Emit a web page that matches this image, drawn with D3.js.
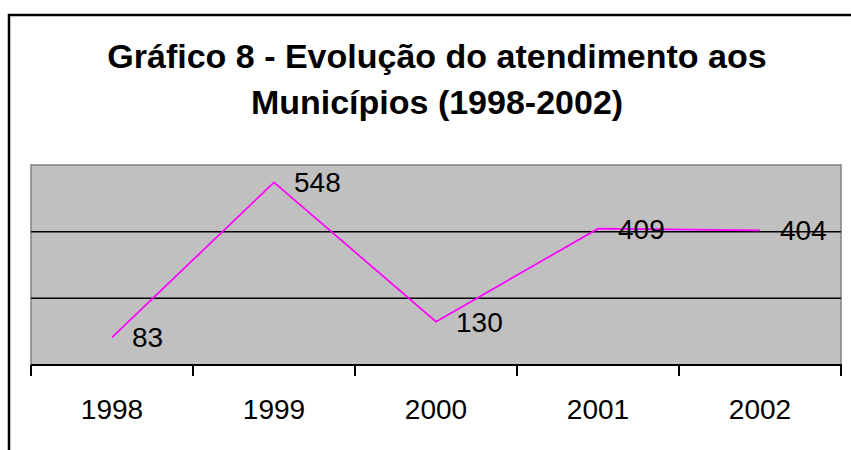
<!DOCTYPE html>
<html>
<head>
<meta charset="utf-8">
<script src="https://cdn.jsdelivr.net/npm/d3@7"></script>
<style>
  html, body { margin: 0; padding: 0; background: #fff; }
  svg { display: block; }
  text { font-family: "Liberation Sans", Arial, sans-serif; }
</style>
</head>
<body>
<svg id="chart" width="851" height="450"></svg>
<script>
const categories = ["1998", "1999", "2000", "2001", "2002"];
const values = [83, 548, 130, 409, 404];
const yTicks = [0, 200, 400, 600];
const titleLines = ["Gráfico 8 - Evolução do atendimento aos", "Municípios (1998-2002)"];

const svg = d3.select("#chart");
const W = 851, H = 450;
const plot = { left: 31, right: 841, top: 165, bottom: 365 };

// outer frame (only top and left visible)
svg.append("path")
  .attr("d", `M9,${H} L9,15 L${W},15`)
  .attr("fill", "none").attr("stroke", "#000").attr("stroke-width", 2.5);

// title
svg.append("g").selectAll("text").data(titleLines).enter().append("text")
  .attr("x", 437).attr("y", (d, i) => 68 + i * 46)
  .attr("text-anchor", "middle")
  .attr("font-size", 34).attr("font-weight", "bold").attr("fill", "#000")
  .text(d => d);

const x = d3.scaleBand().domain(categories).range([plot.left, plot.right]).padding(0);
const y = d3.scaleLinear().domain([0, 600]).range([plot.bottom, plot.top]);

// plot background
svg.append("rect")
  .attr("x", plot.left).attr("y", plot.top)
  .attr("width", plot.right - plot.left).attr("height", plot.bottom - plot.top)
  .attr("fill", "#c0c0c0").attr("stroke", "#808080").attr("stroke-width", 1.5);

// gridlines
svg.append("g").selectAll("line").data(yTicks.filter(t => t > 0 && t < 600)).enter().append("line")
  .attr("x1", plot.left).attr("x2", plot.right)
  .attr("y1", d => y(d)).attr("y2", d => y(d))
  .attr("stroke", "#000").attr("stroke-width", 1.5);

// x axis
const xAxis = d3.axisBottom(x).tickSize(0).tickFormat(d => d);
const gx = svg.append("g").attr("transform", `translate(0,${plot.bottom})`).call(xAxis);
gx.select(".domain").remove();
gx.selectAll("text").attr("font-size", 28).attr("fill", "#000")
  .attr("font-family", "'Liberation Sans', Arial, sans-serif")
  .attr("dy", 0).attr("y", 54);
svg.append("line")
  .attr("x1", plot.left).attr("x2", plot.right + 1)
  .attr("y1", plot.bottom).attr("y2", plot.bottom)
  .attr("stroke", "#000").attr("stroke-width", 2);
// tick marks at band boundaries
const boundaries = categories.map(c => x(c)).concat([x(categories[categories.length - 1]) + x.bandwidth()]);
svg.append("g").selectAll("line").data(boundaries).enter().append("line")
  .attr("x1", d => d).attr("x2", d => d)
  .attr("y1", plot.bottom).attr("y2", plot.bottom + 11)
  .attr("stroke", "#000").attr("stroke-width", 2);

// line
const cx = d => x(d) + x.bandwidth() / 2;
const line = d3.line().x((d, i) => cx(categories[i])).y(d => y(d));
svg.append("path").datum(values)
  .attr("d", line)
  .attr("fill", "none").attr("stroke", "#ff00ff").attr("stroke-width", 1.7);

// data labels
svg.append("g").selectAll("text").data(values).enter().append("text")
  .attr("x", (d, i) => cx(categories[i]) + 20)
  .attr("y", d => y(d) + 10)
  .attr("font-size", 28).attr("fill", "#000")
  .text(d => d);
</script>
</body>
</html>
